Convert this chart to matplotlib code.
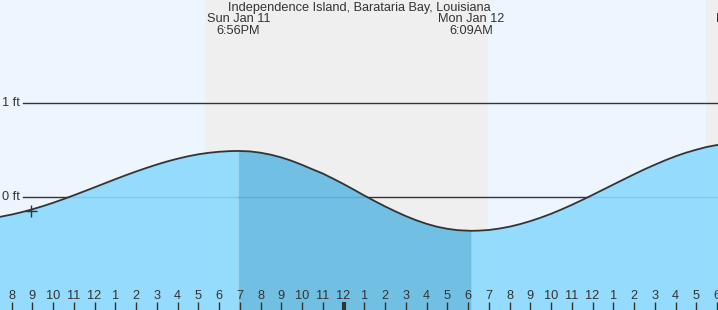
import matplotlib
matplotlib.use("Agg")
import matplotlib.pyplot as plt
import matplotlib.transforms as mtransforms
import numpy as np

plt.rcParams['font.family'] = ['Liberation Sans', 'DejaVu Sans']

# ---- data (hours since Sun Jan 11 00:00), tide height in ft ----
tide_hours = [7, 7.5, 8, 8.5, 9, 9.5, 10, 10.5, 11, 11.5, 12, 12.5, 13, 13.5,
              14, 14.5, 15, 15.5, 16, 16.5, 17, 17.5, 18, 18.5, 18.93,
              19.5, 20, 20.5, 21, 21.5, 22, 22.5, 23, 23.5, 24, 24.5, 25, 25.5,
              26, 26.5, 27, 27.5, 28, 28.5, 29, 29.5, 30.15,
              30.5, 31, 31.5, 32, 32.5, 33, 33.5, 34, 34.5, 35, 35.5, 36, 36.5,
              37, 37.5, 38, 38.5, 39, 39.5, 40, 40.5, 41, 41.5, 42, 42.5, 43,
              43.45]
tide_ft = [-0.227, -0.209, -0.187, -0.161, -0.131, -0.098, -0.062, -0.023,
           0.018, 0.060, 0.103, 0.146, 0.189, 0.231, 0.271, 0.309, 0.345,
           0.378, 0.407, 0.433, 0.454, 0.470, 0.481, 0.488, 0.490,
           0.485, 0.471, 0.450, 0.421, 0.385, 0.342, 0.295, 0.250, 0.195,
           0.138, 0.078, 0.016, -0.043, -0.100, -0.153, -0.203, -0.247,
           -0.285, -0.316, -0.338, -0.353, -0.360,
           -0.358, -0.351, -0.336, -0.316, -0.289, -0.257, -0.220, -0.179,
           -0.133, -0.084, -0.032, 0.022, 0.077, 0.132, 0.187, 0.241, 0.294,
           0.343, 0.390, 0.433, 0.471, 0.503, 0.532, 0.553, 0.568, 0.578,
           0.580]

high_time, low_time = 18.93, 30.15
extreme_times = [18.93, 30.15, 43.55]
extreme_day = ["Sun Jan 11", "Mon Jan 12", "Mon Jan 12"]
extreme_clock = ["6:56PM", "6:09AM", ""]

night_start = [17.33, 41.47]
night_end = [30.96, 50.0]

tick_hours = list(range(8, 43))
tick_labels = ["8", "9", "10", "11", "12", "1", "2", "3", "4", "5", "6", "7",
               "8", "9", "10", "11", "12", "1", "2", "3", "4", "5", "6", "7",
               "8", "9", "10", "11", "12", "1", "2", "3", "4", "5", "6"]
midnight = 24

ft_levels = [0, 1]
ft_labels = ["0 ft", "1 ft"]

now_time, now_ft = 8.94, -0.15

title = "Independence Island, Barataria Bay, Louisiana"

# ---- figure ----
W, H = 718, 310
FS = 9.2
fig = plt.figure(figsize=(W / 100, H / 100), dpi=100)
ax = fig.add_axes([0, 0, 1, 1])
pph = 20.75
x0 = 8 - 11.5 / pph
x1 = x0 + W / pph
ax.set_xlim(x0, x1)
ax.set_ylim((197 - 310) / 94, 197 / 94)
ax.axis('off')

day_bg = '#edf6fe'
night_bg = '#efefef'
ink = '#333333'
ax.axvspan(x0, x1, color=day_bg, zorder=0, lw=0)
for s, e in zip(night_start, night_end):
    ax.axvspan(s, e, color=night_bg, zorder=0.5, lw=0)

# reference lines
lab_x = x0 + 23 / pph
for lv, lb in zip(ft_levels, ft_labels):
    ax.plot([lab_x, x1], [lv, lv], color=ink, lw=1.0, zorder=1)
    ax.text(x0 + 20 / pph, lv, lb, ha='right', va='center', fontsize=FS,
            color=ink, zorder=5)

h = np.array(tide_hours)
v = np.array(tide_ft)
ybot = (197 - 320) / 94
light = '#8bd9fe'
dark = '#63bbe3'
mask_dark = (h >= high_time) & (h <= low_time)
ax.fill_between(h, ybot, v, where=(h <= high_time), color=light, alpha=0.9,
                lw=0, zorder=2)
ax.fill_between(h, ybot, v, where=(h >= low_time), color=light, alpha=0.9,
                lw=0, zorder=2)
ax.fill_between(h, ybot, v, where=mask_dark, color=dark, alpha=0.9,
                lw=0, zorder=2)
ax.plot(h, v, color=ink, lw=1.3, zorder=3, solid_joinstyle='round')

ax.plot([now_time], [now_ft], marker='+', color=ink, markersize=8, mew=1.0,
        zorder=4)

# ticks
trans = mtransforms.blended_transform_factory(ax.transData, ax.transAxes)
for th, tl in zip(tick_hours, tick_labels):
    lw = 3 if th == midnight else 1
    ax.plot([th, th], [0, 8 / H], color=ink, lw=lw, transform=trans, zorder=5,
            solid_capstyle='butt')
    ax.text(th, 14 / H, tl, ha='center', va='center', fontsize=FS, color=ink,
            transform=trans, zorder=5)

# header text
ax.text(x0 + 359 / pph, 1 - 8 / H, title, ha='center', va='center',
        fontsize=FS, color=ink, transform=trans, zorder=5)
for t, d, c in zip(extreme_times, extreme_day, extreme_clock):
    ax.text(t, 1 - 19 / H, d, ha='center', va='center', fontsize=FS,
            color=ink, transform=trans, zorder=5)
    if c:
        ax.text(t, 1 - 31 / H, c, ha='center', va='center', fontsize=FS,
                color=ink, transform=trans, zorder=5)

fig.savefig('out.png', dpi=100)
